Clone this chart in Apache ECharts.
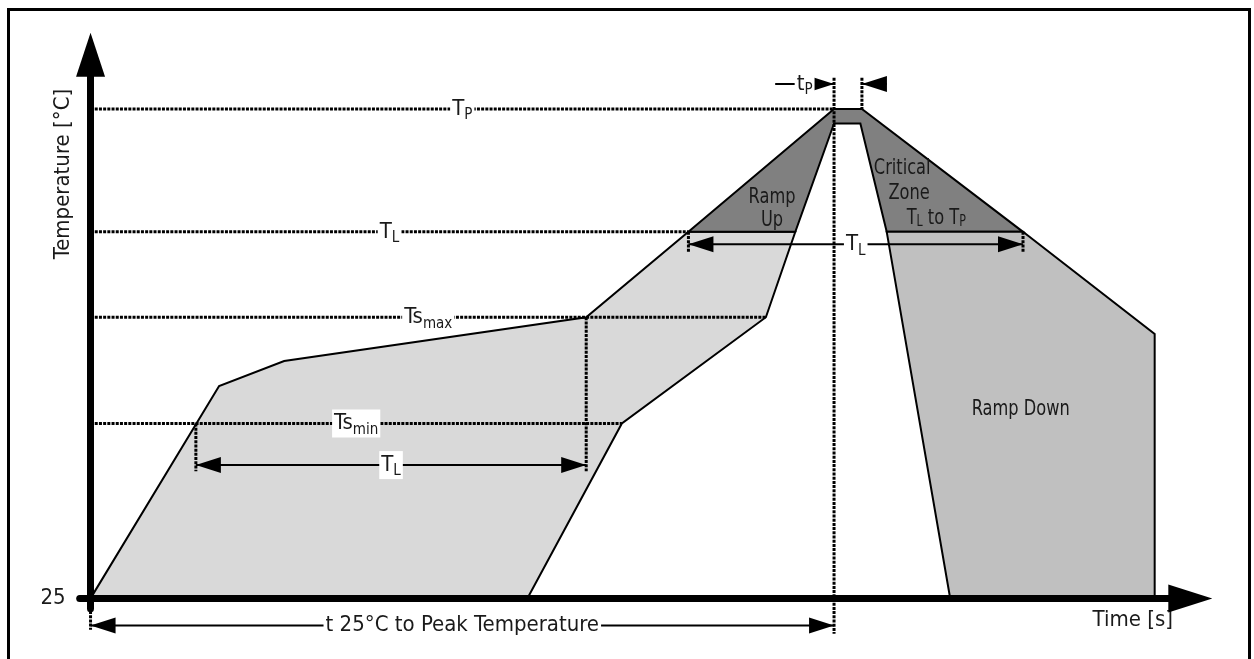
<!DOCTYPE html>
<html>
<head>
<meta charset="utf-8">
<script src="https://cdn.jsdelivr.net/npm/echarts@6/dist/echarts.min.js"></script>
<style>
html, body { margin: 0; padding: 0; background: #fff; }
#chart { width: 1254px; height: 659px; }
</style>
</head>
<body>
<div id="chart"></div>
<script>
// reflow profile, corners (time in s, temperature in °C)
const maxProfileTime = [0, 83, 125, 320, 386, 480, 498, 602, 687, 687];
const maxProfileTemp = [25, 127, 139, 160, 201, 260, 260, 201, 152, 25];
const minProfileTime = [282, 343, 436, 455, 480, 497, 514, 555];
const minProfileTemp = [25, 109, 160, 201, 253, 253, 201, 25];

// dotted temperature levels
const levelLabels = ['{m|T}{s|P}', '{m|T}{s|L}', '{m|Ts}{s|max}', '{m|Ts}{s|min}'];
const levelTemps = [260, 201, 160, 109];
const levelEndTimes = [480, 386, 436, 343];

// dotted drop lines
const dropTimes = [68, 320, 480, 498, 0, 386, 602];
const dropTops = [109, 160, 275, 275, 25, 201, 201];
const dropBottoms = [86, 86, 8, 260, 10, 191, 191];

// dimension arrows
const spanLabels = ['{m|T}{s|L}', '{m|T}{s|L}', '{m|t 25°C to Peak Temperature}', '{m|t}{s|P}', ''];
const spanFrom = [68, 386, 0, 442, 514];
const spanTo = [320, 602, 480, 480, 498];
const spanTemps = [89, 195, 12, 272, 272];
const spanBoth = [true, true, true, false, false];

// zone names
const zoneTexts = ['{m|Ramp}\n{m|Up}', '{m|Critical}', '{m|Zone}', '{m|T}{s|L}{m| to T}{s|P}', '{m|Ramp Down}'];
const zoneTextTime = [440, 524, 528.5, 546, 600.5];
const zoneTextTemp = [212, 231.5, 219.5, 207.5, 116];

const FONT = "'DejaVu Sans Condensed', 'DejaVu Sans', sans-serif";
const INK = '#1a1a1a';
const rich = {
  m: { fontSize: 22, fontFamily: FONT, lineHeight: 28, fill: INK },
  s: { fontSize: 15, fontFamily: FONT, lineHeight: 14, verticalAlign: 'bottom', fill: INK }
};
const dotted = { stroke: '#000', lineWidth: 3, lineDash: [3, 1.2] };

const zones = [
  { color: '#d9d9d9', maxFrom: 0, maxTo: 4, minFrom: 0, minTo: 3 },
  { color: '#808080', maxFrom: 4, maxTo: 7, minFrom: 3, minTo: 6 },
  { color: '#c0c0c0', maxFrom: 7, maxTo: 9, minFrom: 6, minTo: 7 }
];

const chart = echarts.init(document.getElementById('chart'));

function tag(text, x, y) {
  return {
    type: 'text', x: x, y: y, z2: 20,
    style: {
      text: text, rich: rich, align: 'center', verticalAlign: 'middle',
      backgroundColor: '#fff', padding: [0, 2]
    }
  };
}

function head(tip, dir) {
  return {
    type: 'polygon',
    shape: { points: [tip, [tip[0] - dir * 25, tip[1] - 8], [tip[0] - dir * 25, tip[1] + 8]] },
    style: { fill: '#000' }
  };
}

const option = {
  animation: false,
  grid: { left: 79.7, right: 63.7, top: 54.8, bottom: 50.2 },
  xAxis: {
    type: 'value', min: -7, max: 710, position: 'bottom', offset: -10.4, z: 10,
    axisLine: {
      onZero: false, symbol: ['none', 'triangle'], symbolSize: [28, 44],
      lineStyle: { color: '#000', width: 7, cap: 'round' }
    },
    axisTick: { show: false }, axisLabel: { show: false }, splitLine: { show: false }
  },
  yAxis: {
    type: 'value', min: 20, max: 286, interval: 5, z: 10,
    axisLine: {
      onZero: true, symbol: ['none', 'triangle'], symbolSize: [29, 44],
      lineStyle: { color: '#000', width: 7, cap: 'round' }
    },
    axisTick: { show: false },
    axisLabel: {
      margin: 14, fontSize: 22, fontFamily: FONT, color: INK,
      showMinLabel: false, showMaxLabel: false,
      formatter: v => (v === 25 ? '25' : '')
    },
    splitLine: { show: false }
  },
  graphic: [
    {
      type: 'rect', shape: { x: 8.5, y: 9.5, width: 1241, height: 700 },
      style: { fill: 'none', stroke: '#000', lineWidth: 3 }
    },
    {
      type: 'text', x: 63, y: 174, rotation: Math.PI / 2,
      style: { text: 'Temperature [°C]', fontSize: 22, fontFamily: FONT, fill: INK, align: 'center', verticalAlign: 'middle' }
    },
    {
      type: 'text', x: 1173, y: 620,
      style: { text: 'Time [s]', fontSize: 22, fontFamily: FONT, fill: INK, align: 'right', verticalAlign: 'middle' }
    }
  ],
  series: [
    {
      // shaded zones between the two profiles
      type: 'custom',
      data: zones.map((z, i) => [i]),
      renderItem: (params, api) => {
        const z = zones[params.dataIndex];
        const pts = [];
        for (let i = z.maxFrom; i <= z.maxTo; i++) pts.push(api.coord([maxProfileTime[i], maxProfileTemp[i]]));
        for (let i = z.minTo; i >= z.minFrom; i--) pts.push(api.coord([minProfileTime[i], minProfileTemp[i]]));
        return { type: 'polygon', shape: { points: pts }, style: { fill: z.color, stroke: '#000', lineWidth: 2 } };
      }
    },
    {
      // temperature levels
      type: 'custom',
      data: levelTemps.map((t, i) => [levelEndTimes[i], t]),
      renderItem: (params, api) => {
        const i = params.dataIndex;
        const a = api.coord([0, levelTemps[i]]);
        const b = api.coord([levelEndTimes[i], levelTemps[i]]);
        return {
          type: 'group',
          children: [
            { type: 'line', shape: { x1: a[0], y1: a[1], x2: b[0], y2: b[1] }, style: dotted },
            tag(levelLabels[i], (a[0] + b[0]) / 2, a[1])
          ]
        };
      }
    },
    {
      // drop lines
      type: 'custom',
      data: dropTimes.map((t, i) => [t, dropTops[i]]),
      renderItem: (params, api) => {
        const i = params.dataIndex;
        const a = api.coord([dropTimes[i], dropTops[i]]);
        const b = api.coord([dropTimes[i], dropBottoms[i]]);
        return { type: 'line', shape: { x1: a[0], y1: a[1], x2: b[0], y2: b[1] }, style: dotted };
      }
    },
    {
      // dimension arrows
      type: 'custom',
      data: spanFrom.map((t, i) => [t, spanTemps[i]]),
      renderItem: (params, api) => {
        const i = params.dataIndex;
        const a = api.coord([spanFrom[i], spanTemps[i]]);
        const b = api.coord([spanTo[i], spanTemps[i]]);
        const dir = b[0] > a[0] ? 1 : -1;
        const kids = [
          { type: 'line', shape: { x1: a[0], y1: a[1], x2: b[0], y2: b[1] }, style: { stroke: '#000', lineWidth: 2 } },
          head(b, dir)
        ];
        if (spanBoth[i]) kids.push(head(a, -dir));
        if (spanLabels[i]) kids.push(tag(spanLabels[i], (a[0] + b[0]) / 2, a[1]));
        return { type: 'group', children: kids };
      }
    },
    {
      // zone names
      type: 'custom',
      data: zoneTextTime.map((t, i) => [t, zoneTextTemp[i]]),
      renderItem: (params, api) => {
        const p = api.coord([api.value(0), api.value(1)]);
        return {
          type: 'text', x: p[0], y: p[1], scaleX: 0.82,
          style: {
            text: zoneTexts[params.dataIndex],
            rich: { m: Object.assign({}, rich.m, { lineHeight: 23 }), s: rich.s },
            align: 'center', verticalAlign: 'middle'
          }
        };
      }
    }
  ]
};

chart.setOption(option);
window.addEventListener('resize', () => chart.resize());
</script>
</body>
</html>
